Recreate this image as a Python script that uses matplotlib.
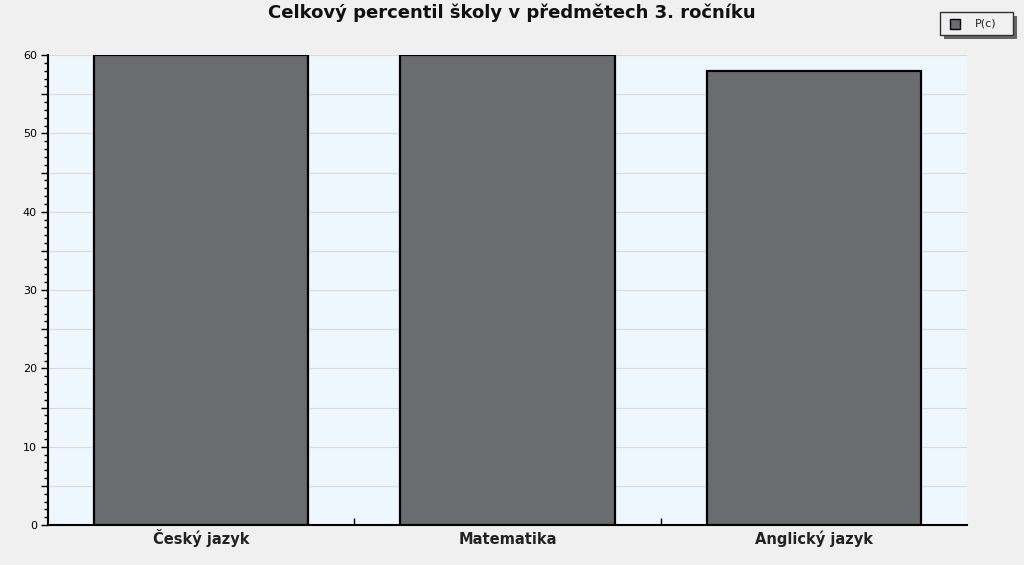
import matplotlib
matplotlib.use("Agg")
import matplotlib.pyplot as plt
from matplotlib.ticker import MultipleLocator
from matplotlib.patches import Rectangle
import numpy as np

categories = ["Český jazyk", "Matematika", "Anglický jazyk"]
values = [60, 60, 58]
series_name = "P(c)"
title = "Celkový percentil školy v předmětech 3. ročníku"

W, H = 1024, 565
fig = plt.figure(figsize=(W/100, H/100), dpi=100, facecolor="#f0f0f0")
ax = fig.add_axes([48/W, 1-525/H, (967-48)/W, (525-55)/H])
ax.set_facecolor("#eef6fe")

x = np.arange(len(categories))
ax.bar(x, values, width=0.70, color="#6b6c70", edgecolor="black", linewidth=1.6, zorder=3)

ax.set_xlim(-0.5, len(categories)-0.5)
ax.set_ylim(0, 60)
ax.yaxis.set_minor_locator(MultipleLocator(1))
ax.set_yticks(np.arange(0, 61, 5), minor=False)
ax.set_yticklabels([str(v) if v % 10 == 0 else "" for v in np.arange(0, 61, 5)])
ax.grid(axis="y", which="major", color="#d6dbe0", linewidth=0.8, zorder=0)
ax.tick_params(axis="y", which="major", direction="out", length=5, width=1, labelsize=8, colors="black", pad=3)
ax.tick_params(axis="y", which="minor", direction="out", length=3, width=1)

ax.set_xticks(x)
ax.set_xticklabels([])
ax.tick_params(axis="x", which="major", length=0)
ax.set_xticks(np.arange(0.5, len(categories)-0.5, 1.0), minor=True)
ax.tick_params(axis="x", which="minor", direction="in", length=5, width=1)
for xi, lab in zip(x, categories):
    ax.text(xi, -19/470, lab, transform=ax.get_xaxis_transform(), ha="center", va="baseline",
            fontsize=10.5, fontweight="bold", color="#222222")

for s in ["top", "right"]:
    ax.spines[s].set_visible(False)
ax.spines["left"].set_linewidth(1.5)
ax.spines["bottom"].set_linewidth(1.5)

fig.text(512/W, 1-12.5/H, title, ha="center", va="center", fontsize=13, fontweight="bold", color="#111111")

# legend with shadow
lx, ly, lw, lh = 940, 12, 73, 23
fig.patches.append(Rectangle(((lx+4)/W, 1-(ly+lh+4)/H), lw/W, lh/H, transform=fig.transFigure,
                             facecolor="#666666", edgecolor="none", zorder=1))
fig.patches.append(Rectangle((lx/W, 1-(ly+lh)/H), lw/W, lh/H, transform=fig.transFigure,
                             facecolor="#f0f0f0", edgecolor="#333333", linewidth=1, zorder=2))
fig.patches.append(Rectangle(((lx+10)/W, 1-(ly+17)/H), 10/W, 10/H, transform=fig.transFigure,
                             facecolor="#6b6c70", edgecolor="black", linewidth=1, zorder=3))
fig.text((lx+35)/W, 1-(ly+lh/2)/H, series_name, ha="left", va="center", fontsize=8, color="#222222", zorder=4)

fig.savefig("out.png", dpi=100, facecolor=fig.get_facecolor())
